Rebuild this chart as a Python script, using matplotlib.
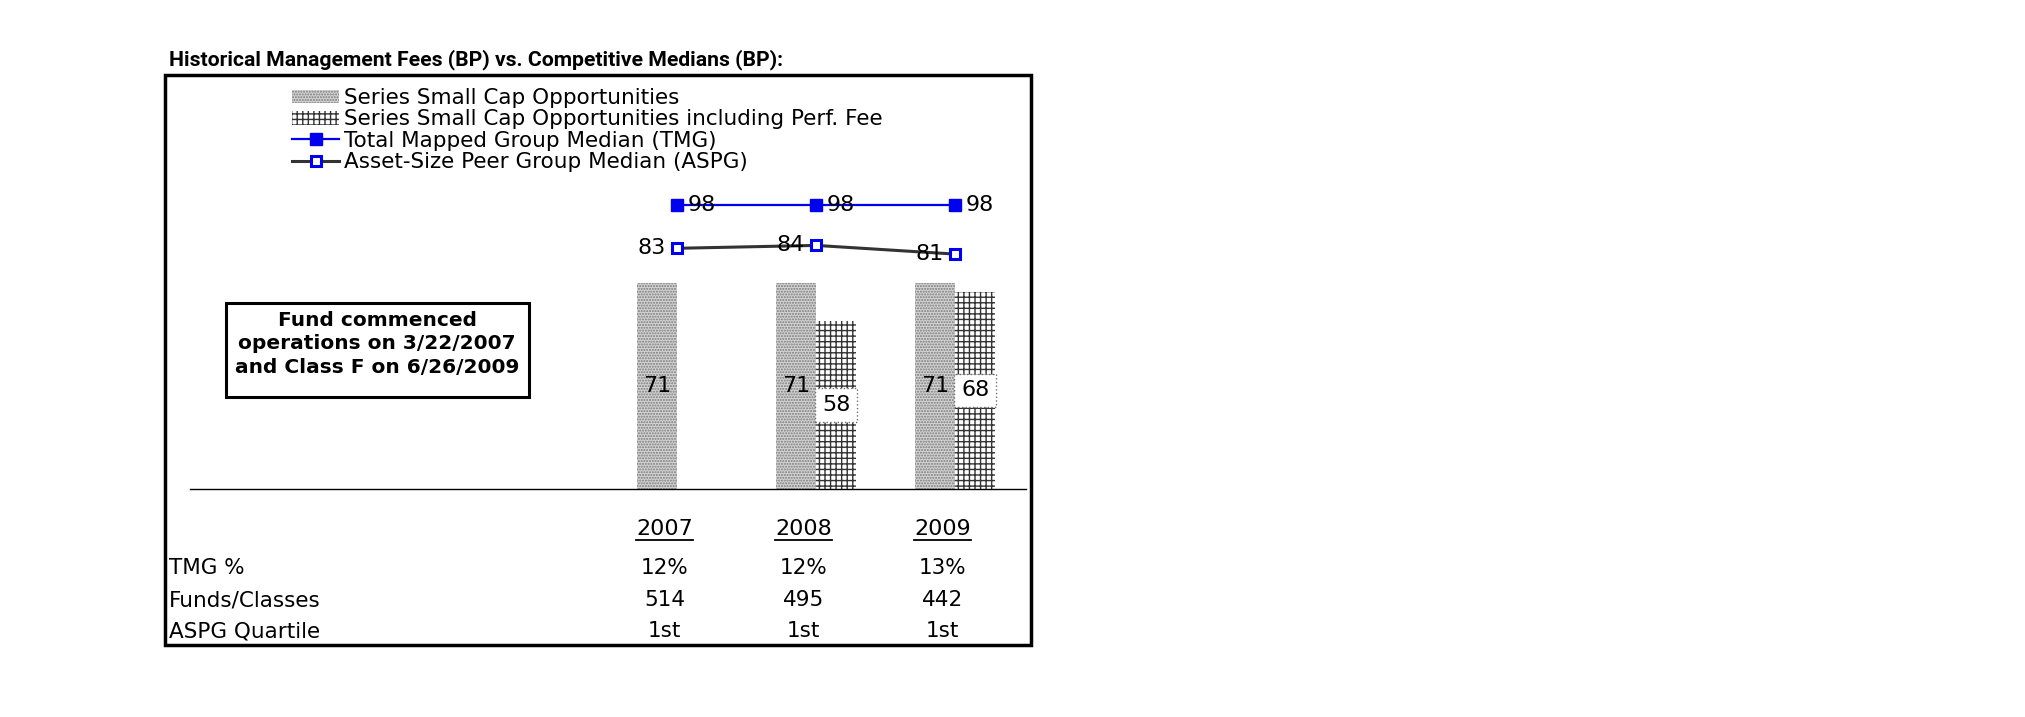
import matplotlib
matplotlib.use("Agg")
import matplotlib.pyplot as plt
import matplotlib.transforms as mtransforms
from matplotlib import font_manager
from matplotlib.lines import Line2D
from matplotlib.patches import Patch, Rectangle

# ---- data -----------------------------------------------------------------
years = ["2007", "2008", "2009"]
fund_fee = [71, 71, 71]                 # Series Small Cap Opportunities
perf_fee = [None, 58, 68]               # ... including Perf. Fee
tmg_median = [98, 98, 98]
aspg_median = [83, 84, 81]
tmg_pct = ["12%", "12%", "13%"]
funds_classes = ["514", "495", "442"]
aspg_quartile = ["1st", "1st", "1st"]

title = "Historical Management Fees (BP) vs. Competitive Medians (BP):"
legend_labels = [
    "Series Small Cap Opportunities",
    "Series Small Cap Opportunities including Perf. Fee",
    "Total Mapped Group Median (TMG)",
    "Asset-Size Peer Group Median (ASPG)",
]
note = "Fund commenced\noperations on 3/22/2007\nand Class F on 6/26/2009"
row_labels = ["TMG %", "Funds/Classes", "ASPG Quartile"]

# ---- layout (pixels of a 2025x717 canvas) ---------------------------------
W, H = 2025, 717
plt.rcParams["font.family"] = ["DejaVu Sans"]
plt.rcParams["hatch.linewidth"] = 1.0


def _bold_family():
    # a narrower bold face (closer to the Tahoma of the original), if one is installed
    for fam in ["Roboto", "Lato", "Open Sans", "Noto Sans"]:
        try:
            path = font_manager.findfont(font_manager.FontProperties(family=fam, weight="bold"),
                                         fallback_to_default=False)
        except Exception:
            continue
        if "bold" in path.lower():
            return fam
    return "DejaVu Sans"


title_family = _bold_family()

fig = plt.figure(figsize=(W / 100, H / 100), dpi=100)


def fx(x):
    return x / W


def fy(y):
    return 1 - y / H


base_y, top_y = 489, 180
left_x, right_x = 190, 1026
px_per_bp = 2.90
cat0, cat_step = 677, 139

ax = fig.add_axes([fx(left_x), fy(base_y), (right_x - left_x) / W, (base_y - top_y) / H])
ax.set_ylim(0, (base_y - top_y) / px_per_bp)
ax.set_xlim(-(cat0 - left_x) / cat_step, 2 + (right_x - (cat0 + 2 * cat_step)) / cat_step)
for side in ("top", "left", "right"):
    ax.spines[side].set_visible(False)
ax.spines["bottom"].set_linewidth(1.0)
ax.set_xticks([])
ax.set_yticks([])
ax.patch.set_alpha(0)

xs = list(range(len(years)))
bw = 0.29
fs_val = 16

dot_style = dict(facecolor="#d4d4d4", edgecolor="#7a7a7a", hatch="......", linewidth=0)
grid_style = dict(facecolor="white", edgecolor="#333333", hatch="+++", linewidth=0)

ax.bar([x - bw / 2 for x in xs], fund_fee, width=bw, **dot_style)
px = [x for x, v in zip(xs, perf_fee) if v is not None]
pv = [v for v in perf_fee if v is not None]
ax.bar([x + bw / 2 for x in px], pv, width=bw, **grid_style)

for x, v in zip(xs, fund_fee):
    ax.text(x - bw / 2, v / 2, str(v), ha="center", va="center", fontsize=fs_val)
for x, v in zip(px, pv):
    ax.text(x + bw / 2, v / 2, str(v), ha="center", va="center", fontsize=fs_val,
            bbox=dict(boxstyle="square,pad=0.3", fc="white", ec="#707070", ls=":", lw=1))

ax.plot(xs, tmg_median, color="#0000ee", lw=1.6, marker="s", ms=9,
        mfc="#0000ee", mec="#0000ee", clip_on=False)
ax.plot(xs, aspg_median, color="#333333", lw=2.2, marker="s", ms=7,
        mfc="white", mec="#0000ee", mew=2.2, clip_on=False)

for x, v in zip(xs, tmg_median):
    ax.annotate(str(v), (x, v), xytext=(8, 0), textcoords="offset points",
                ha="left", va="center", fontsize=fs_val)
for x, v in zip(xs, aspg_median):
    ax.annotate(str(v), (x, v), xytext=(-8, 0), textcoords="offset points",
                ha="right", va="center", fontsize=fs_val)

# ---- legend ----------------------------------------------------------------
handles = [
    Patch(**dot_style),
    Patch(**grid_style),
    Line2D([], [], color="#0000ee", lw=1.6, marker="s", ms=9, mfc="#0000ee", mec="#0000ee"),
    Line2D([], [], color="#333333", lw=2.2, marker="s", ms=7, mfc="white", mec="#0000ee", mew=2.2),
]
fig.legend(handles, legend_labels, loc="upper left", bbox_to_anchor=(fx(292), fy(88)),
           frameon=False, fontsize=15.5, borderpad=0, borderaxespad=0,
           labelspacing=0.06, handlelength=2.2, handleheight=0.6, handletextpad=0.2)

# ---- title, frames, note --------------------------------------------------
title_txt = fig.text(fx(169), fy(60), title, fontsize=15, fontweight="bold",
                     family=[title_family, "DejaVu Sans"], ha="left", va="center")
fig.patches.append(Rectangle((fx(165), fy(645)), (1031 - 165) / W, (645 - 75) / H,
                             transform=fig.transFigure, fill=False, lw=2.5, ec="black"))
fig.patches.append(Rectangle((fx(226), fy(397)), (529 - 226) / W, (397 - 303) / H,
                             transform=fig.transFigure, fill=True, fc="white", lw=2.2, ec="black"))
fig.text(fx(377), fy(344), note, fontsize=14.5, fontweight="bold", ha="center", va="center",
         linespacing=1.3)

# ---- table under the chart -------------------------------------------------
tr = mtransforms.blended_transform_factory(ax.transData, fig.transFigure)
shift = -0.09
year_texts = []
for x, yr in zip(xs, years):
    year_texts.append(ax.text(x + shift, fy(529), yr, transform=tr, ha="center", va="center",
                              fontsize=fs_val))

rows_y = [568, 600, 631]
for label, vals, yy in zip(row_labels, [tmg_pct, funds_classes, aspg_quartile], rows_y):
    fig.text(fx(169), fy(yy), label, ha="left", va="center", fontsize=15.5)
    for x, v in zip(xs, vals):
        ax.text(x + shift, fy(yy), v, transform=tr, ha="center", va="center", fontsize=15.5)

# fit the title to the width it takes in the original, then underline the years
fig.canvas.draw()
tw = title_txt.get_window_extent().width
title_txt.set_fontsize(15 * 617 / tw)
for t in year_texts:
    bb = t.get_window_extent()
    fig.add_artist(Line2D([bb.x0 / W, bb.x1 / W], [(bb.y0 - 1) / H] * 2,
                          transform=fig.transFigure, color="black", lw=1.3))

fig.savefig("out.png", dpi=100, facecolor="white")
